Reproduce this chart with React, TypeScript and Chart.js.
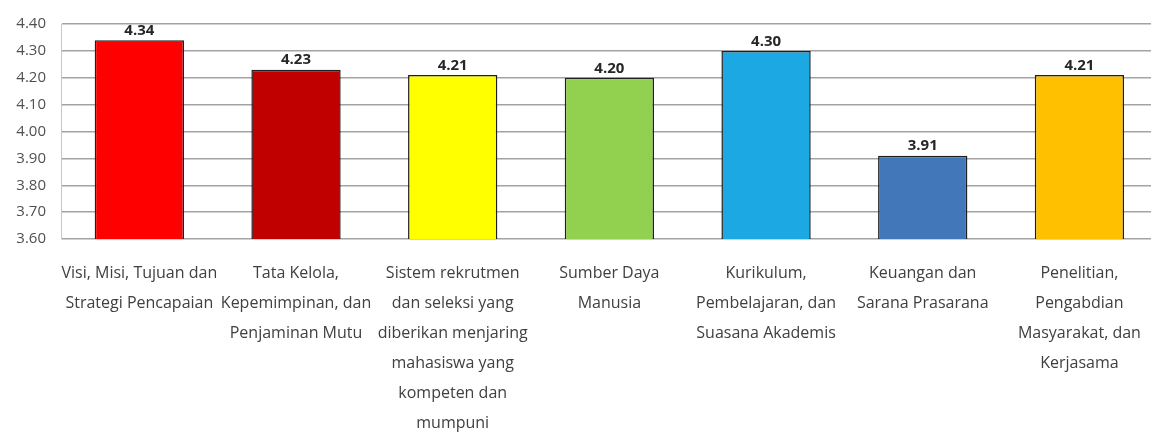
import React, { useEffect, useRef } from "react";
import { Chart, registerables } from "chart.js";

Chart.register(...registerables);

const categories: string[][] = [
  ["Visi, Misi, Tujuan dan", "Strategi Pencapaian"],
  ["Tata Kelola,", "Kepemimpinan, dan", "Penjaminan Mutu"],
  ["Sistem rekrutmen", "dan seleksi yang", "diberikan menjaring", "mahasiswa yang", "kompeten dan", "mumpuni"],
  ["Sumber Daya", "Manusia"],
  ["Kurikulum,", "Pembelajaran, dan", "Suasana Akademis"],
  ["Keuangan dan", "Sarana Prasarana"],
  ["Penelitian,", "Pengabdian", "Masyarakat, dan", "Kerjasama"],
];

const scores: number[] = [4.34, 4.23, 4.21, 4.2, 4.3, 3.91, 4.21];

const barColors: string[] = ["#FF0000", "#C00000", "#FFFF00", "#92D050", "#1CA8E2", "#4278BA", "#FFC000"];

const yMin = 3.6;
const yMax = 4.4;
const yStep = 0.1;

const valueLabels = {
  id: "valueLabels",
  afterDatasetsDraw(chart: any) {
    const ctx = chart.ctx;
    const meta = chart.getDatasetMeta(0);
    const data = chart.data.datasets[0].data as number[];
    ctx.save();
    ctx.font = "bold 15px 'Open Sans'";
    ctx.fillStyle = "#262626";
    ctx.textAlign = "center";
    ctx.textBaseline = "bottom";
    meta.data.forEach((bar: any, i: number) => {
      ctx.fillText(data[i].toFixed(2), bar.x, bar.y - 2);
    });
    ctx.restore();
  },
};

export default function App() {
  const ref = useRef<HTMLCanvasElement>(null);
  useEffect(() => {
    document.body.style.margin = "0";
    const chart = new Chart(ref.current!, {
      type: "bar",
      data: {
        labels: categories,
        datasets: [
          {
            data: scores,
            backgroundColor: barColors,
            borderColor: "#1f1f1f",
            borderWidth: 1.5,
            barPercentage: 0.57,
            categoryPercentage: 1,
          },
        ],
      },
      options: {
        responsive: false,
        animation: false,
        layout: { padding: { top: 21, right: 1, left: 0, bottom: 0 } },
        plugins: { legend: { display: false }, tooltip: { enabled: false } },
        scales: {
          x: {
            grid: { display: false, drawTicks: false },
            border: { display: false },
            ticks: {
              color: "#404040",
              font: { family: "'Open Sans'", size: 16, lineHeight: 1.875 },
              padding: 19,
              maxRotation: 0,
              autoSkip: false,
            },
            afterFit: (s: any) => {
              s.height = 199;
            },
          },
          y: {
            min: yMin,
            max: yMax,
            grid: { color: "#a3a3a3", lineWidth: 1.5, drawTicks: false },
            border: { display: true, color: "#c8c8c8", width: 1 },
            ticks: {
              stepSize: yStep,
              color: "#505050",
              font: { family: "'Open Sans'", size: 15 },
              padding: 15,
              callback: (v: any) => Number(v).toFixed(2),
            },
            afterFit: (s: any) => {
              s.width = 61;
            },
          },
        },
      },
      plugins: [valueLabels],
    });
    return () => chart.destroy();
  }, []);
  return (
    <div style={{ position: "relative", width: 1151, height: 438, overflow: "hidden", background: "#fff" }}>
      <canvas ref={ref} width={1160} height={438} style={{ display: "block" }} />
    </div>
  );
}
